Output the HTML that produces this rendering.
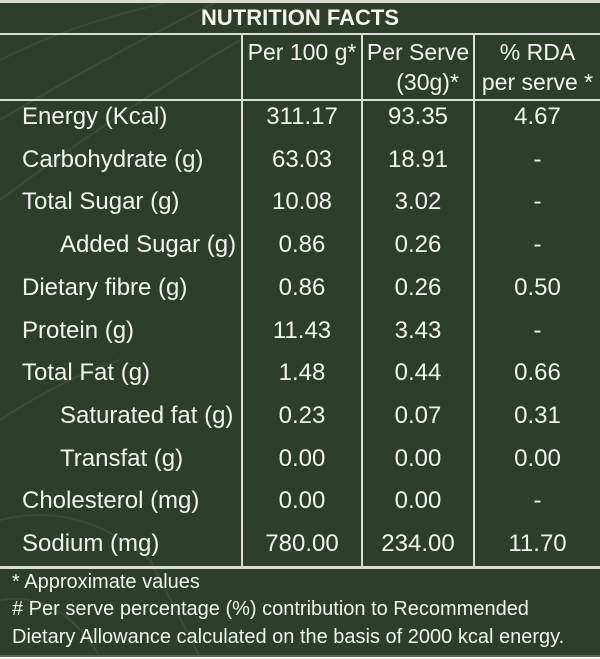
<!DOCTYPE html>
<html><head><style>
body{margin:0;width:600px;height:659px;background:#fff;overflow:hidden}
#w{position:absolute;left:0;top:0;width:600px;height:657px;background:#2d3e2b;font-family:"Liberation Sans",sans-serif;color:#f2f2ee;overflow:hidden}
.h{position:absolute;background:#d8dcd4;height:2px;left:0;width:600px}
.v{position:absolute;background:#d8dcd4;width:2px;top:34px;height:533px}
.t{position:absolute;font-size:23px;line-height:24px;white-space:nowrap}
.c{text-align:center}
.f{font-size:20px}
</style></head><body><div id="w">
<svg width="600" height="657" style="position:absolute;left:0;top:0" fill="none" stroke="#3a4b38" stroke-width="2">
<path d="M0 60 Q80 20 180 0"/><path d="M0 120 Q100 60 220 0"/><path d="M0 200 Q120 110 240 40"/><path d="M0 420 Q60 380 120 360"/><path d="M0 520 Q80 500 150 560 L200 657"/><path d="M0 600 Q60 590 100 657"/>
</svg>
<div class="h" style="top:0;height:3px"></div>
<div class="t c" style="left:0;width:600px;top:6px;font-weight:bold;font-size:22px">NUTRITION FACTS</div>
<div class="h" style="top:33px"></div>
<div class="h" style="top:99px"></div>
<div class="h" style="top:566px;height:3px"></div>
<div class="v" style="left:241px"></div>
<div class="v" style="left:361px"></div>
<div class="v" style="left:473px"></div>
<div class="t c" style="left:243px;width:118px;top:40px">Per 100 g*</div>
<div class="t c" style="left:363px;width:110px;top:40px">Per Serve</div>
<div class="t c" style="left:363px;width:110px;top:70px">&nbsp;&nbsp;&nbsp;(30g)*</div>
<div class="t c" style="left:475px;width:125px;top:40px">% RDA</div>
<div class="t c" style="left:475px;width:125px;top:70px">per serve *</div>
<div id="rows"></div>
<div class="t f" style="left:12px;top:570px">* Approximate values</div>
<div class="t f" style="left:12px;top:597px"># Per serve percentage (%) contribution to Recommended</div>
<div class="t f" style="left:12px;top:625px">Dietary Allowance calculated on the basis of 2000 kcal energy.</div>
<div class="h" style="top:655px;height:2px;background:#5a6a58"></div>
</div>
<script>
var r=[["Energy (Kcal)",0,"311.17","93.35","4.67"],["Carbohydrate (g)",0,"63.03","18.91","-"],["Total Sugar (g)",0,"10.08","3.02","-"],["Added Sugar (g)",1,"0.86","0.26","-"],["Dietary fibre (g)",0,"0.86","0.26","0.50"],["Protein (g)",0,"11.43","3.43","-"],["Total Fat (g)",0,"1.48","0.44","0.66"],["Saturated fat (g)",1,"0.23","0.07","0.31"],["Transfat (g)",1,"0.00","0.00","0.00"],["Cholesterol (mg)",0,"0.00","0.00","-"],["Sodium (mg)",0,"780.00","234.00","11.70"]];
var h="";r.forEach(function(x,i){var y=105+i*42.7;
h+='<div class="t" style="font-size:24px;left:'+(x[1]?60:22)+'px;top:'+y+'px">'+x[0]+'</div>';
h+='<div class="t c" style="font-size:24px;left:243px;width:118px;top:'+y+'px">'+x[2]+'</div>';
h+='<div class="t c" style="font-size:24px;left:363px;width:110px;top:'+y+'px">'+x[3]+'</div>';
h+='<div class="t c" style="font-size:24px;left:475px;width:125px;top:'+y+'px">'+x[4]+'</div>';});
document.getElementById("rows").innerHTML=h;
</script>
</body></html>
